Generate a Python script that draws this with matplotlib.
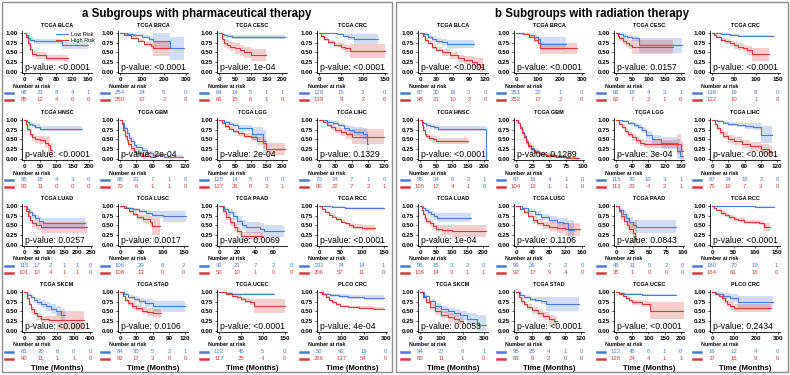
import matplotlib
matplotlib.use('Agg')
import matplotlib.pyplot as plt
from matplotlib.patches import Rectangle
from matplotlib.lines import Line2D
import numpy as np

plt.rcParams['font.family'] = ['Liberation Sans', 'DejaVu Sans']

BLUE = '#4a7bd6'
RED = '#d63b3b'
W, H = 790, 375

names = ['TCGA BLCA', 'TCGA BRCA', 'TCGA CESC', 'TCGA CRC',
         'TCGA HNSC', 'TCGA GBM', 'TCGA LGG', 'TCGA LIHC',
         'TCGA LUAD', 'TCGA LUSC', 'TCGA PAAD', 'TCGA RCC',
         'TCGA SKCM', 'TCGA STAD', 'TCGA UCEC', 'PLCO CRC']
titles = ['a Subgroups with pharmaceutical therapy', 'b Subgroups with radiation therapy']

pval_a = ['<0.0001', '<0.0001', '1e-04', '<0.0001', '<0.0001', '2e-04', '2e-04', '0.1329',
          '0.0257', '0.0017', '0.0069', '<0.0001', '<0.0001', '0.0106', '<0.0001', '4e-04']
pval_b = ['<0.0001', '<0.0001', '0.0157', '<0.0001', '<0.0001', '0.1289', '3e-04', '<0.0001',
          '1e-04', '0.1106', '0.0843', '<0.0001', '0.0053', '<0.0001', '<0.0001', '0.2434']

step_a = [40, 100, 50, 50, 50, 30, 50, 30, 50, 50, 20, 50, 100, 30, 50, 100]
step_b = [30, 100, 50, 50, 50, 25, 40, 30, 50, 40, 25, 50, 100, 30, 50, 100]
xmax_a = [170, 310, 215, 155, 210, 125, 215, 125, 255, 160, 75, 158, 410, 125, 155, 305]
xmax_b = [125, 310, 210, 155, 212, 102, 168, 125, 215, 165, 102, 158, 320, 125, 210, 310]

risk_low_a = [[98, 21, 8, 4, 1], [254, 24, 5, 0], [64, 14, 5, 1, 1], [129, 15, 3, 0],
              [95, 18, 4, 3, 0], [88, 21, 7, 1, 0], [125, 14, 5, 0, 0], [70, 24, 7, 1, 0],
              [115, 17, 2, 1, 1, 0], [106, 29, 8, 2], [43, 21, 7, 2, 0], [211, 74, 14, 1],
              [81, 20, 6, 0, 0], [84, 30, 5, 2, 1], [123, 45, 5, 0], [50, 43, 19, 0]]
risk_high_a = [[85, 12, 4, 0, 0], [250, 17, 2, 0], [66, 15, 6, 1, 0], [139, 9, 2, 0],
               [83, 11, 0, 0, 0], [70, 6, 1, 1, 0], [127, 26, 8, 3, 1], [80, 22, 7, 2, 1],
               [101, 10, 4, 1, 1, 0], [108, 13, 0, 0], [50, 10, 1, 0, 0], [206, 57, 11, 0],
               [90, 11, 1, 1, 0], [92, 17, 3, 0, 0], [117, 25, 4, 0], [266, 137, 54, 0]]
risk_low_b = [[87, 30, 16, 3, 0], [251, 22, 1, 0], [66, 18, 4, 3, 1], [136, 19, 8, 0],
              [95, 24, 6, 2, 1], [87, 16, 4, 1, 0], [115, 30, 10, 3, 1], [97, 34, 18, 2, 0],
              [95, 15, 3, 2, 0], [99, 36, 7, 2, 0], [45, 11, 5, 2, 0], [180, 70, 19, 1],
              [94, 27, 6, 1], [95, 25, 4, 1, 0], [122, 45, 6, 1, 0], [16, 12, 4, 0]]
risk_high_b = [[98, 21, 10, 2, 0], [252, 17, 2, 0], [62, 7, 2, 1, 0], [122, 10, 1, 0],
               [105, 17, 4, 1, 0], [104, 13, 1, 1, 0], [113, 23, 4, 2, 1], [75, 19, 7, 3, 0],
               [106, 14, 3, 1, 1], [92, 17, 9, 4, 0], [35, 1, 0, 0, 0], [164, 63, 16, 0],
               [82, 11, 1, 0], [83, 9, 2, 0, 0], [128, 24, 4, 1, 1], [37, 16, 9, 0]]

# survival curves: time, survival, half width of the band
low_t_a = [[0, 4, 10, 16, 24, 95, 160], [0, 30, 60, 100, 130, 150, 230, 290], [0, 8, 15, 25, 40, 210],
           [0, 20, 40, 55, 65, 80, 135], [0, 8, 15, 25, 35, 48, 180],
           [0, 4, 8, 12, 16, 20, 25, 30, 40, 50, 60, 80, 115], [0, 15, 30, 45, 60, 105, 140, 148],
           [0, 15, 25, 35, 45, 55, 65, 80, 88, 90], [0, 10, 20, 30, 40, 55, 70, 230],
           [0, 15, 30, 45, 60, 75, 100, 155], [0, 5, 10, 15, 20, 25, 30, 45, 50, 72],
           [0, 15, 30, 60, 150], [0, 20, 40, 60, 80, 100, 130, 160, 190, 220, 250],
           [0, 8, 15, 25, 35, 45, 60, 120], [0, 15, 30, 45, 125], [0, 20, 50, 90, 130, 200, 290]]
low_s_a = [[1, .95, .88, .83, .78, .68, .68], [1, .98, .95, .9, .85, .8, .6, .6], [1, .97, .94, .92, .9, .9],
           [1, .99, .97, .93, .9, .85, .85], [1, .95, .9, .87, .83, .78, .78],
           [1, .92, .8, .66, .54, .45, .36, .3, .22, .14, .09, .05, .05], [1, .96, .9, .86, .8, .65, .45, .45],
           [1, .96, .92, .87, .8, .75, .7, .65, .38, .38], [1, .93, .85, .77, .7, .62, .55, .55],
           [1, .96, .92, .87, .83, .78, .73, .73], [1, .93, .85, .75, .62, .52, .45, .4, .35, .35],
           [1, .99, .98, .96, .96], [1, .93, .87, .8, .75, .7, .63, .56, .5, .42, .42],
           [1, .94, .88, .82, .76, .72, .63, .63], [1, .98, .96, .95, .95], [1, .96, .92, .89, .87, .85, .85]]
low_w_a = [[0, .04, .06, .07, .07, .1, .1], [0, .01, .02, .04, .07, .2, .3, .3], [0, .03, .04, .05, .05, .05],
           [0, .01, .02, .04, .07, .13, .13], [0, .03, .05, .05, .06, .07, .07],
           [0, .03, .05, .07, .08, .08, .08, .08, .07, .06, .05, .04, .04], [0, .02, .04, .05, .08, .17, .3, .3],
           [0, .03, .05, .06, .08, .1, .12, .15, .3, .3], [0, .03, .05, .07, .08, .1, .15, .15],
           [0, .02, .04, .05, .06, .08, .15, .15], [0, .05, .08, .1, .12, .13, .14, .15, .15, .15],
           [0, .01, .01, .02, .02], [0, .04, .06, .08, .09, .1, .11, .12, .13, .15, .15],
           [0, .03, .05, .07, .08, .1, .15, .15], [0, .01, .02, .03, .03], [0, .02, .04, .05, .06, .06, .06]]
high_t_a = [[0, 5, 10, 15, 20, 30, 55, 110], [0, 20, 50, 80, 110, 140, 150, 230],
            [0, 8, 15, 25, 35, 50, 65, 80, 100, 150], [0, 5, 12, 20, 35, 50, 60, 70, 150],
            [0, 5, 10, 18, 25, 35, 50, 65, 75, 80, 85], [0, 3, 6, 9, 12, 15, 20, 25, 30, 40, 55, 65],
            [0, 10, 20, 30, 45, 60, 80, 100, 120, 140, 150, 210], [0, 8, 15, 22, 30, 40, 50, 60, 120],
            [0, 8, 15, 22, 30, 45, 65, 235], [0, 10, 20, 30, 40, 55, 70, 75, 95],
            [0, 4, 8, 12, 16, 20, 24, 48], [0, 8, 15, 22, 30, 40, 50, 60, 70, 80, 100, 130],
            [0, 15, 30, 45, 60, 80, 100, 150, 200, 360], [0, 5, 10, 15, 22, 30, 40, 50, 60, 75],
            [0, 15, 30, 40, 50, 60, 70, 80, 150], [0, 15, 30, 45, 60, 75, 95, 130, 180, 240, 290]]
high_s_a = [[1, .9, .75, .58, .46, .42, .36, .36], [1, .95, .88, .8, .72, .67, .6, .6],
            [1, .85, .75, .7, .65, .6, .55, .5, .44, .44], [1, .92, .85, .77, .7, .65, .6, .53, .53],
            [1, .9, .78, .65, .55, .5, .48, .42, .35, .22, .22], [1, .9, .75, .6, .48, .38, .27, .2, .14, .08, .04, .04],
            [1, .92, .85, .78, .72, .66, .6, .55, .46, .4, .25, .25], [1, .95, .88, .82, .75, .7, .63, .57, .57],
            [1, .88, .75, .65, .55, .5, .45, .45], [1, .95, .88, .8, .72, .66, .6, .48, .48],
            [1, .88, .72, .58, .45, .35, .22, .22], [1, .93, .85, .78, .72, .66, .6, .55, .5, .47, .43, .43],
            [1, .85, .7, .55, .45, .37, .31, .29, .27, .27], [1, .9, .8, .72, .65, .58, .52, .48, .45, .45],
            [1, .95, .9, .86, .82, .78, .75, .65, .65], [1, .95, .88, .8, .74, .68, .64, .62, .6, .57, .55]]
high_w_a = [[0, .05, .08, .08, .08, .08, .08, .08], [0, .02, .03, .04, .06, .08, .18, .18],
            [0, .08, .1, .12, .12, .14, .15, .15, .16, .16], [0, .03, .05, .06, .07, .08, .1, .18, .18],
            [0, .05, .08, .1, .1, .1, .1, .15, .25, .2, .2], [0, .04, .06, .08, .08, .08, .07, .06, .05, .04, .03, .03],
            [0, .03, .05, .05, .06, .06, .07, .08, .1, .12, .15, .15], [0, .03, .05, .07, .08, .1, .12, .2, .2],
            [0, .04, .06, .08, .1, .12, .15, .15], [0, .03, .05, .07, .08, .1, .15, .22, .22],
            [0, .06, .08, .1, .1, .1, .1, .1], [0, .02, .03, .04, .04, .05, .05, .05, .06, .06, .07, .07],
            [0, .05, .07, .08, .08, .08, .08, .1, .25, .25], [0, .04, .06, .07, .08, .08, .09, .1, .1, .1],
            [0, .02, .04, .05, .06, .07, .08, .18, .18], [0, .01, .02, .03, .03, .03, .03, .03, .04, .04, .04]]

low_t_b = [[0, 8, 15, 22, 30, 40, 50, 100], [0, 30, 60, 80, 100, 110, 230], [0, 10, 20, 35, 50, 70, 205],
           [0, 20, 40, 60, 140], [0, 5, 10, 20, 30, 45, 55, 205, 207],
           [0, 3, 6, 9, 12, 15, 18, 22, 27, 35, 45, 60, 80, 90],
           [0, 15, 30, 45, 55, 65, 75, 90, 110, 150, 158, 165], [0, 10, 20, 30, 45, 60, 75, 90, 110],
           [0, 8, 15, 25, 35, 45, 55, 160], [0, 15, 30, 45, 60, 80, 100, 115, 125, 140],
           [0, 5, 10, 15, 20, 25, 30, 90], [0, 20, 50, 100, 145],
           [0, 20, 40, 70, 100, 130, 160, 190, 220, 270, 310], [0, 8, 15, 25, 35, 45, 55, 115],
           [0, 10, 25, 45, 80, 185], [0, 20, 50, 80, 120, 280]]
low_s_b = [[1, .96, .9, .85, .8, .76, .72, .72], [1, .98, .94, .9, .84, .72, .72], [1, .97, .93, .9, .86, .68, .68],
           [1, .98, .95, .93, .93], [1, .95, .92, .88, .84, .81, .78, 0, 0],
           [1, .93, .82, .7, .58, .46, .36, .27, .2, .13, .09, .06, .03, .03],
           [1, .97, .92, .87, .82, .75, .62, .5, .4, .2, .08, .08], [1, .97, .93, .9, .87, .85, .82, .62, .62],
           [1, .95, .9, .85, .8, .75, .7, .7], [1, .95, .88, .8, .72, .65, .58, .55, .38, .38],
           [1, .9, .8, .7, .58, .5, .47, .47], [1, .995, .99, .98, .98],
           [1, .9, .76, .63, .56, .5, .45, .4, .3, .15, .15], [1, .93, .87, .82, .8, .78, .68, .68],
           [1, .98, .96, .94, .93, .93], [1, .95, .9, .85, .74, .74]]
low_w_b = [[0, .03, .05, .07, .08, .09, .1, .1], [0, .01, .03, .05, .07, .17, .17], [0, .02, .04, .05, .07, .2, .2],
           [0, .01, .02, .03, .03], [0, .03, .04, .05, .06, .07, .07, 0, 0],
           [0, .03, .05, .07, .08, .08, .08, .07, .06, .05, .05, .04, .03, .03],
           [0, .02, .04, .05, .07, .08, .1, .12, .15, .3, .3, .3], [0, .02, .04, .05, .06, .07, .09, .22, .22],
           [0, .03, .05, .07, .08, .1, .12, .12], [0, .02, .04, .06, .08, .1, .12, .15, .25, .25],
           [0, .06, .09, .12, .14, .15, .16, .16], [0, .005, .01, .01, .01],
           [0, .04, .06, .08, .09, .1, .1, .12, .15, .25, .25], [0, .03, .05, .06, .07, .08, .18, .18],
           [0, .01, .02, .03, .03, .03], [0, .05, .08, .1, .15, .15]]
high_t_b = [[0, 5, 10, 15, 22, 30, 40, 55, 70, 80, 95, 105, 110, 115], [0, 30, 60, 80, 100, 110, 280],
            [0, 5, 10, 20, 30, 40, 50, 175], [0, 5, 10, 20, 30, 40, 50, 60, 70, 80, 90, 130],
            [0, 5, 10, 15, 20, 28, 40, 50, 150], [0, 3, 6, 9, 12, 15, 18, 22, 27, 35, 45, 60, 75, 95],
            [0, 8, 15, 22, 30, 40, 50, 60, 70, 150, 160, 165], [0, 5, 10, 15, 20, 30, 40, 55, 70, 90, 105, 110],
            [0, 5, 10, 15, 20, 30, 40, 50, 70, 100, 210], [0, 10, 20, 30, 40, 50, 65, 80, 100, 120, 155],
            [0, 4, 8, 12, 16, 20, 25, 28, 32], [0, 5, 10, 20, 30, 40, 50, 60, 75, 90, 110, 120, 135],
            [0, 15, 30, 45, 70, 100, 130, 160, 185, 200, 205], [0, 5, 10, 15, 20, 30, 40, 50, 60, 70, 75],
            [0, 10, 20, 30, 40, 50, 80, 105, 210], [0, 15, 30, 45, 60, 70, 80, 100, 270]]
high_s_b = [[1, .92, .83, .74, .65, .57, .5, .42, .35, .3, .25, .2, .13, .13], [1, .96, .9, .83, .75, .6, .6],
            [1, .93, .86, .8, .75, .7, .65, .65], [1, .95, .9, .83, .78, .73, .68, .64, .6, .55, .45, .45],
            [1, .88, .75, .65, .58, .53, .5, .45, .45], [1, .92, .8, .67, .55, .43, .33, .25, .18, .12, .08, .05, .02, .02],
            [1, .9, .82, .72, .63, .55, .48, .42, .38, .38, .2, .2], [1, .9, .8, .7, .6, .52, .45, .38, .32, .25, .18, .18],
            [1, .9, .8, .7, .62, .55, .48, .42, .38, .35, .35], [1, .93, .85, .75, .65, .57, .5, .47, .44, .4, .4],
            [1, .88, .75, .62, .52, .42, .3, .15, .15], [1, .95, .9, .82, .76, .71, .67, .64, .6, .58, .56, .45, .45],
            [1, .88, .75, .62, .5, .42, .35, .3, .25, .2, .2], [1, .88, .78, .7, .62, .53, .45, .38, .3, .25, .25],
            [1, .95, .9, .85, .8, .73, .7, .52, .52], [1, .95, .9, .84, .78, .7, .63, .58, .58]]
high_w_b = [[0, .03, .05, .06, .07, .07, .08, .08, .09, .1, .12, .15, .22, .22], [0, .01, .03, .05, .07, .14, .14],
            [0, .04, .07, .09, .1, .12, .18, .18], [0, .02, .04, .05, .06, .07, .08, .09, .1, .12, .17, .17],
            [0, .04, .06, .07, .07, .08, .08, .08, .08], [0, .03, .05, .07, .08, .08, .08, .07, .06, .05, .05, .04, .03, .03],
            [0, .04, .06, .07, .08, .08, .09, .1, .1, .25, .25, .25], [0, .05, .07, .08, .09, .1, .1, .11, .12, .13, .14, .14],
            [0, .04, .06, .07, .08, .08, .09, .1, .12, .15, .15], [0, .03, .05, .07, .08, .09, .1, .11, .13, .16, .16],
            [0, .06, .1, .12, .14, .15, .3, .5, .5], [0, .02, .03, .04, .05, .05, .05, .05, .05, .05, .06, .1, .1],
            [0, .05, .07, .08, .09, .09, .1, .1, .1, .1, .1], [0, .04, .06, .07, .08, .09, .1, .11, .12, .13, .13],
            [0, .02, .04, .05, .06, .07, .08, .22, .22], [0, .03, .05, .07, .08, .09, .1, .1, .1]]

groups = [
    (pval_a, step_a, xmax_a, risk_low_a, risk_high_a, low_t_a, low_s_a, low_w_a, high_t_a, high_s_a, high_w_a),
    (pval_b, step_b, xmax_b, risk_low_b, risk_high_b, low_t_b, low_s_b, low_w_b, high_t_b, high_s_b, high_w_b),
]

col_left = [[22, 118, 217, 317], [418, 514, 614, 710]]
row_top = [31, 118, 204, 290]
AX_W, AX_H = 70, 42
boxes = [(2, 392), (396, 788)]


def km(ax, t, s, w, color, label=None):
    t = np.asarray(t, float)
    s = np.asarray(s, float)
    w = np.asarray(w, float)
    ax.fill_between(t, np.clip(s - w, 0, 1), np.clip(s + w, 0, 1), step='post',
                    color=color, alpha=0.25, lw=0)
    ax.step(t, s, where='post', color=color, lw=0.8, label=label)


fig = plt.figure(figsize=(W / 100, H / 100), dpi=100)

for g, (x0, x1) in enumerate(boxes):
    fig.patches.append(Rectangle((x0 / W, 1 - 372 / H), (x1 - x0) / W, 370 / H,
                                 transform=fig.transFigure, fill=False, ec='#8c8c8c', lw=1))
    fig.text((x0 + x1) / 2 / W, 1 - 13.5 / H, titles[g], ha='center', va='center',
             fontsize=8.3, fontweight='bold')

for g, grp in enumerate(groups):
    pvals, steps, xmaxs, rlow, rhigh, lt, ls, lw_, ht, hs, hw = grp
    for i in range(16):
        r, c = divmod(i, 4)
        left = col_left[g][c]
        top = row_top[r]
        ax = fig.add_axes([left / W, 1 - (top + AX_H) / H, AX_W / W, AX_H / H])
        km(ax, lt[i], ls[i], lw_[i], BLUE, 'Low Risk')
        km(ax, ht[i], hs[i], hw[i], RED, 'High Risk')
        n = len(rlow[i])
        ticks = [k * steps[i] for k in range(n)]
        ax.set_xlim(-0.03 * xmaxs[i], xmaxs[i])
        ax.set_ylim(-0.03, 1.05)
        ax.set_xticks([tk for tk in ticks if tk <= xmaxs[i]])
        ax.set_yticks([0, 0.25, 0.5, 0.75, 1.0])
        ax.set_yticklabels(['0.00', '0.25', '0.50', '0.75', '1.00'])
        ax.tick_params(labelsize=4.5, length=1.5, width=0.5, pad=1.5)
        for lab in ax.get_xticklabels() + ax.get_yticklabels():
            lab.set_fontweight('bold')
        for sp in ['top', 'right']:
            ax.spines[sp].set_visible(False)
        for sp in ['left', 'bottom']:
            ax.spines[sp].set_linewidth(0.6)
        ax.set_title(names[i], fontsize=4, fontweight='bold', pad=3)
        ax.text(0.04, 0.03, 'p-value: ' + pvals[i], transform=ax.transAxes,
                fontsize=6.2, va='bottom', ha='left')
        if g == 0 and i == 0:
            ax.legend(loc='upper right', bbox_to_anchor=(1.1, 1.08), fontsize=4, frameon=False,
                      handlelength=2.2, handletextpad=0.5, labelspacing=0.3, borderpad=0.2)

        # risk table under the curve
        tr = ax.get_xaxis_transform()
        ax.text(-9 / AX_W, -13 / AX_H, 'Number at risk', transform=ax.transAxes,
                fontsize=3.8, fontweight='bold', ha='left', va='center')
        for yy, vals, col in [(-19.5, rlow[i], BLUE), (-26.5, rhigh[i], RED)]:
            ax.add_line(Line2D([-17 / AX_W, -9 / AX_W], [yy / AX_H, yy / AX_H], transform=ax.transAxes,
                               color=col, lw=1.8, clip_on=False))
            for tk, v in zip(ticks, vals):
                ax.text(tk, yy / AX_H, str(v), transform=tr, fontsize=4.3, color=col,
                        ha='center', va='center', clip_on=False)
        if r == 3:
            ax.text(0.5, -37 / AX_H, 'Time (Months)', transform=ax.transAxes, fontsize=5.5,
                    fontweight='bold', ha='center', va='center')

fig.savefig('out.png', dpi=100)
